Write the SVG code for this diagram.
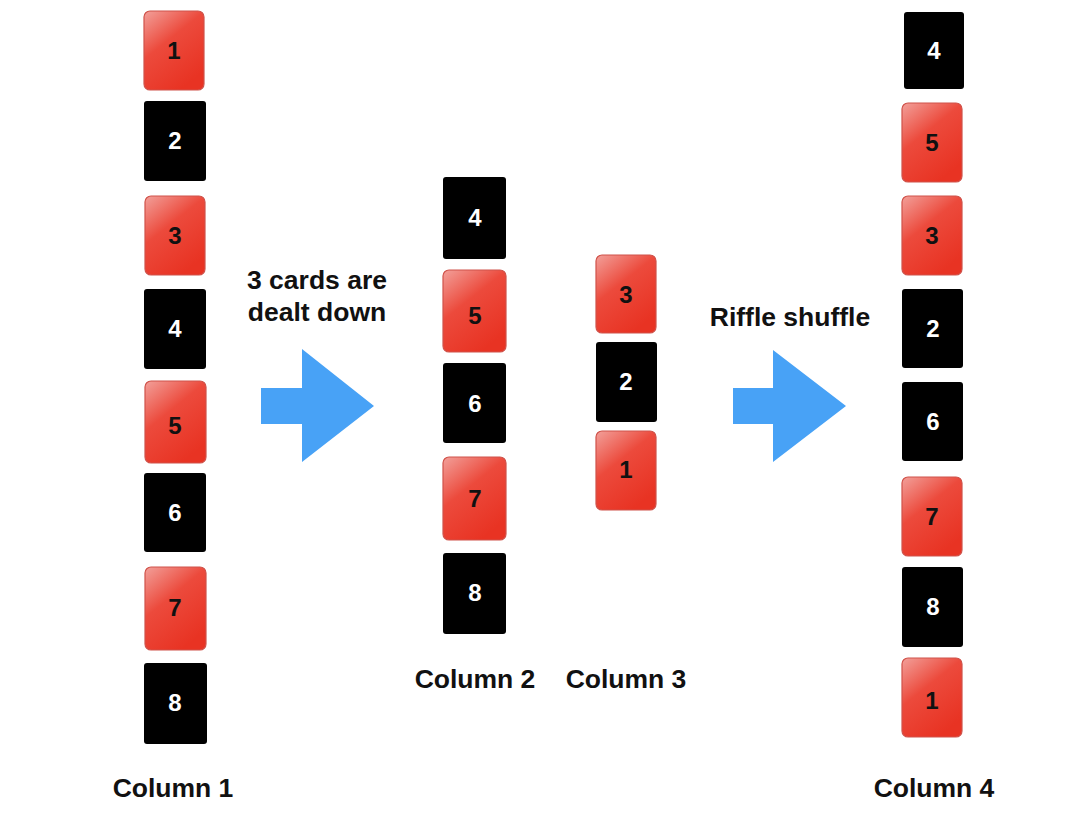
<svg xmlns="http://www.w3.org/2000/svg" width="1080" height="829" viewBox="0 0 1080 829">
<defs>
<linearGradient id="rg" x1="0" y1="0" x2="0.6" y2="1">
<stop offset="0" stop-color="#f2a09a"/>
<stop offset="0.45" stop-color="#ec4a3c"/>
<stop offset="1" stop-color="#e83323"/>
</linearGradient>
<style>
.red rect{fill:url(#rg);stroke:#d0524a;stroke-width:1.2}
.blk rect{fill:#000}
.red text{fill:#111}
.blk text{fill:#fff}
text{font-family:"Liberation Sans",Arial,sans-serif;font-weight:bold;text-anchor:middle}
.num{font-size:24px}
.lbl{font-size:26.5px;fill:#111}
.arrow{fill:#48a2f6}
</style>
</defs>
<rect width="1080" height="829" fill="#fff"/>
<!-- Column 1 -->
<g id="c1-1" class="red"><rect x="144" y="11" width="60" height="79" rx="6"/><text class="num" x="174" y="59">1</text></g>
<g id="c1-2" class="blk"><rect x="144" y="101" width="62" height="80" rx="3"/><text class="num" x="175" y="149">2</text></g>
<g id="c1-3" class="red"><rect x="145" y="196" width="60" height="79" rx="6"/><text class="num" x="175" y="244">3</text></g>
<g id="c1-4" class="blk"><rect x="144" y="289" width="62" height="80" rx="3"/><text class="num" x="175" y="337">4</text></g>
<g id="c1-5" class="red"><rect x="145" y="381" width="61" height="82" rx="6"/><text class="num" x="175" y="434">5</text></g>
<g id="c1-6" class="blk"><rect x="144" y="473" width="62" height="79" rx="3"/><text class="num" x="175" y="521">6</text></g>
<g id="c1-7" class="red"><rect x="145" y="567" width="61" height="83" rx="6"/><text class="num" x="175" y="616">7</text></g>
<g id="c1-8" class="blk"><rect x="144" y="663" width="63" height="81" rx="3"/><text class="num" x="175" y="711">8</text></g>
<!-- Column 2 -->
<g id="c2-4" class="blk"><rect x="443" y="177" width="63" height="82" rx="3"/><text class="num" x="475" y="226">4</text></g>
<g id="c2-5" class="red"><rect x="443" y="270" width="63" height="82" rx="6"/><text class="num" x="475" y="324">5</text></g>
<g id="c2-6" class="blk"><rect x="443" y="363" width="63" height="80" rx="3"/><text class="num" x="475" y="412">6</text></g>
<g id="c2-7" class="red"><rect x="443" y="457" width="63" height="83" rx="6"/><text class="num" x="475" y="507">7</text></g>
<g id="c2-8" class="blk"><rect x="443" y="553" width="63" height="81" rx="3"/><text class="num" x="475" y="601">8</text></g>
<!-- Column 3 -->
<g id="c3-3" class="red"><rect x="596" y="255" width="60" height="78" rx="6"/><text class="num" x="626" y="303">3</text></g>
<g id="c3-2" class="blk"><rect x="596" y="342" width="61" height="80" rx="3"/><text class="num" x="626" y="390">2</text></g>
<g id="c3-1" class="red"><rect x="596" y="431" width="60" height="79" rx="6"/><text class="num" x="626" y="478">1</text></g>
<!-- Column 4 -->
<g id="c4-4" class="blk"><rect x="904" y="12" width="60" height="77" rx="3"/><text class="num" x="934" y="59">4</text></g>
<g id="c4-5" class="red"><rect x="902" y="103" width="60" height="79" rx="6"/><text class="num" x="932" y="151">5</text></g>
<g id="c4-3" class="red"><rect x="902" y="196" width="60" height="79" rx="6"/><text class="num" x="932" y="244">3</text></g>
<g id="c4-2" class="blk"><rect x="902" y="289" width="61" height="79" rx="3"/><text class="num" x="933" y="337">2</text></g>
<g id="c4-6" class="blk"><rect x="902" y="382" width="61" height="79" rx="3"/><text class="num" x="933" y="430">6</text></g>
<g id="c4-7" class="red"><rect x="902" y="477" width="60" height="79" rx="6"/><text class="num" x="932" y="525">7</text></g>
<g id="c4-8" class="blk"><rect x="902" y="567" width="61" height="80" rx="3"/><text class="num" x="933" y="615">8</text></g>
<g id="c4-1" class="red"><rect x="902" y="658" width="60" height="79" rx="6"/><text class="num" x="932" y="709">1</text></g>
<!-- Arrows -->
<g id="arrows">
<polygon class="arrow" points="261,388 302,388 302,349 374,406 302,462 302,424 261,424"/>
<polygon class="arrow" points="733,388 773,388 773,350 846,406 773,462 773,424 733,424"/>
</g>
<!-- Labels -->
<g id="labels">
<text class="lbl" x="317" y="289">3 cards are</text>
<text class="lbl" x="317" y="321">dealt down</text>
<text class="lbl" x="790" y="326">Riffle shuffle</text>
<text class="lbl" x="173" y="797">Column 1</text>
<text class="lbl" x="475" y="688">Column 2</text>
<text class="lbl" x="626" y="688">Column 3</text>
<text class="lbl" x="934" y="797">Column 4</text>
</g>
</svg>
